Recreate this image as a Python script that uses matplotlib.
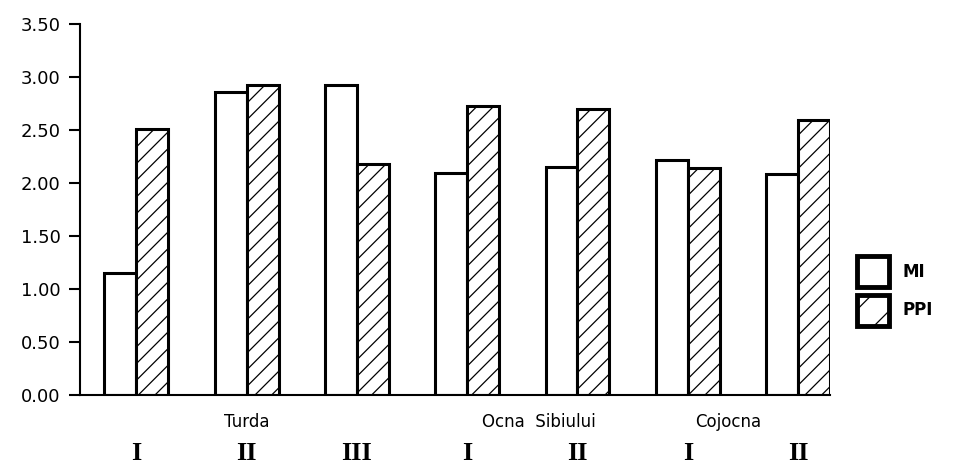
from matplotlib import pyplot as plt
from matplotlib.patches import Patch
import numpy as np

# values
roman = ["I", "II", "III", "I", "II", "I", "II"]
mi = [1.15, 2.86, 2.92, 2.09, 2.15, 2.22, 2.08]
ppi = [2.51, 2.92, 2.18, 2.73, 2.70, 2.14, 2.59]
places = ["Turda", "Ocna  Sibiului", "Cojocna"]
place_pos = [1, 3.65, 5.37]
yticks = [0.0, 0.5, 1.0, 1.5, 2.0, 2.5, 3.0, 3.5]

plt.rcParams['hatch.linewidth'] = 0.9

fig = plt.figure(figsize=(9.58, 4.70), dpi=100)
ax = fig.add_axes([0.0835, 0.16, 0.783, 0.789])

x = np.arange(len(mi))
w = 0.29
ax.bar(x - w / 2, mi, width=w, color='white', edgecolor='black', linewidth=2.2)
ax.bar(x + w / 2, ppi, width=w, color='white', edgecolor='black', linewidth=2.2, hatch='//')

ax.set_xlim(-0.51, 6.29)
ax.set_ylim(0, 3.5)
ax.set_yticks(yticks)
ax.set_yticklabels(['%.2f' % v for v in yticks], fontsize=13)
ax.tick_params(axis='y', direction='out', length=8, width=1.5, pad=6)
ax.set_xticks([])
ax.spines['top'].set_visible(False)
ax.spines['right'].set_visible(False)
ax.spines['left'].set_linewidth(1.5)
ax.spines['bottom'].set_linewidth(1.5)

# group labels below the axis
for p, name in zip(place_pos, places):
    ax.text(p, -0.26, name, ha='center', va='center', fontsize=12)
for i, r in enumerate(roman):
    ax.text(i, -0.55, r, ha='center', va='center', fontsize=19,
            family='Liberation Serif', fontweight='bold')

handles = [Patch(facecolor='white', edgecolor='black', linewidth=3.5, label='MI'),
           Patch(facecolor='white', edgecolor='black', linewidth=3.5, hatch='/', label='PPI')]
ax.legend(handles=handles, loc='center left', bbox_to_anchor=(1.036, 0.28),
          frameon=False, borderpad=0, borderaxespad=0,
          handlelength=1.9, handleheight=2.5, handletextpad=0.8,
          labelspacing=0.45, prop={'size': 12, 'weight': 'bold'})

plt.savefig('out.png', dpi=100)
